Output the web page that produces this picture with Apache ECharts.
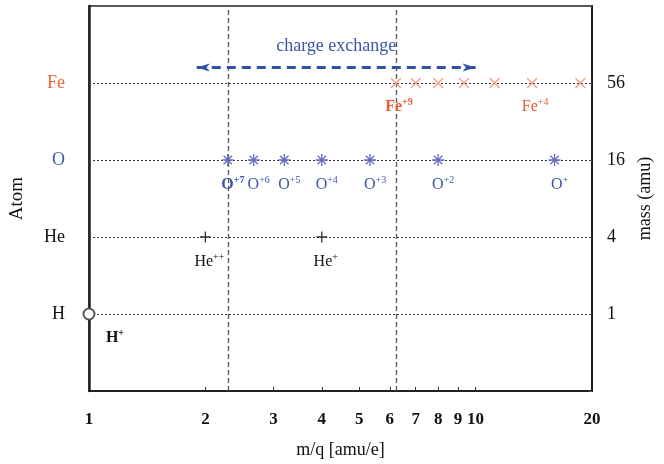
<!DOCTYPE html>
<html>
<head>
<meta charset="utf-8">
<script src="https://cdn.jsdelivr.net/npm/echarts@6/dist/echarts.min.js"></script>
<style>html,body{margin:0;padding:0;background:#fff}#c{width:664px;height:464px}</style>
</head>
<body>
<div id="c"></div>
<script>
// ---- data ----
const atoms = ['H', 'He', 'O', 'Fe'];
const masses = [1, 4, 16, 56];
const xTickLabels = [1, 2, 3, 4, 5, 6, 7, 8, 9, 10, 20];
const xMinorTicks = [2, 3, 4, 5, 6, 7, 8, 9, 10];

const hMQ = [1];
const hSup = ['+'];
const heMQ = [2, 4];
const heSup = ['++', '+'];
const oMQ = [2.286, 2.667, 3.2, 4, 5.333, 8, 16];
const oSup = ['+7', '+6', '+5', '+4', '+3', '+2', '+'];
const feMQ = [6.222, 7, 8, 9.333, 11.2, 14, 18.667];
const feSup = ['+9', '', '', '', '', '+4', ''];
const boldIon = { H: 0, O: 0, Fe: 0 };          // index of bold (highlighted) ion
const refLinesMQ = [2.286, 6.222];               // O+7 and Fe+9
const arrowMQ = [1.9, 10];
const arrowY = 4.2;
const arrowText = 'charge exchange';

// ---- styling ----
const FONT = 'Liberation Serif';
const feLabelColor = '#ee5a30';
const feMarkColor = '#f4a080';
const oLabelColor = '#3a58a6';
const oMarkColor = '#6a6cc2';
const blk = '#111';

const cross = 'path://M0,0 L10,10 M10,0 L0,10';
const star = 'path://M0,5 L10,5 M5,0 L5,10 M1.5,1.5 L8.5,8.5 M8.5,1.5 L1.5,8.5';
const plus = 'path://M0,5 L10,5 M5,0 L5,10';

function ionSeries(name, mq, sup, yIdx, symbol, size, markColor, labelColor, boldIdx, offset) {
  const y = yIdx + 1;
  return {
    type: 'scatter', name: name, clip: false, z: 5,
    symbol: symbol, symbolSize: size,
    itemStyle: { color: 'rgba(0,0,0,0)', borderColor: markColor, borderWidth: 1.3, opacity: 1 },
    data: mq.map((v, i) => ({
      value: [v, y],
      label: {
        show: sup[i] !== '',
        formatter: (i === boldIdx ? '{mb|' : '{m|') + name + '}' + (i === boldIdx ? '{sb|' : '{s|') + sup[i] + '}'
      }
    })),
    label: {
      position: 'bottom', distance: 9, offset: offset,
      fontFamily: FONT,
      rich: {
        m: { fontFamily: FONT, fontSize: 16, color: labelColor },
        mb: { fontFamily: FONT, fontSize: 16, color: labelColor, fontWeight: 'bold' },
        s: { fontFamily: FONT, fontSize: 10, color: labelColor, padding: [0, 0, 9, 0] },
        sb: { fontFamily: FONT, fontSize: 10, color: labelColor, fontWeight: 'bold', padding: [0, 0, 9, 0] }
      }
    },
    emphasis: { disabled: true }
  };
}

const series = [
  ionSeries('Fe', feMQ, feSup, 3, cross, 10, feMarkColor, feLabelColor, boldIon.Fe, [3, 0]),
  ionSeries('O', oMQ, oSup, 2, star, 12, oMarkColor, oLabelColor, boldIon.O, [5, 0]),
  ionSeries('He', heMQ, heSup, 1, plus, 11, '#333', blk, -1, [4, 0]),
  ionSeries('H', hMQ, hSup, 0, 'emptyCircle', 11, '#444', blk, boldIon.H, [26, 4])
];
series[3].itemStyle = { color: '#555', borderColor: '#555', borderWidth: 1.3, opacity: 1 };
series[3].z = 10;
series[3].label.distance = 4;

// horizontal dotted grid lines at each atom, vertical reference lines, arrow
series.push({
  type: 'scatter', data: [], silent: true, z: 1,
  markLine: {
    silent: true, symbol: 'none', animation: false,
    label: { show: false },
    data: atoms.map((a, i) => ({ yAxis: i + 1, lineStyle: { color: '#333', type: [2, 2], width: 1 } }))
      .concat(refLinesMQ.map(v => ({ xAxis: v, lineStyle: { color: '#555', type: [5, 3], width: 1.3 } })))
  }
});
series.push({
  type: 'scatter', data: [], silent: true,
  markLine: {
    silent: true, animation: false,
    symbol: ['arrow', 'arrow'], symbolSize: [6, 13],
    lineStyle: { color: '#2f52a6', type: [9, 6], width: 3 },
    label: {
      show: true, position: 'middle', distance: 12,
      formatter: arrowText, fontFamily: FONT, fontSize: 18, color: oLabelColor
    },
    data: [[{ coord: [arrowMQ[0], arrowY] }, { coord: [arrowMQ[1], arrowY] }]]
  }
});

const option = {
  animation: false,
  backgroundColor: '#fff',
  grid: { left: 87, right: 72, top: 6, bottom: 72, show: true, borderColor: '#222', borderWidth: 1.5, backgroundColor: 'transparent' },
  xAxis: [{
    type: 'log', logBase: 10, min: 1, max: 20,
    name: 'm/q [amu/e]', nameLocation: 'middle', nameGap: 50,
    nameTextStyle: { fontFamily: FONT, fontSize: 18, color: blk },
    axisLine: { show: true, lineStyle: { color: blk, width: 1.5 } },
    axisTick: { show: true, inside: true, length: 4, customValues: xMinorTicks, lineStyle: { color: '#333' } },
    axisLabel: {
      customValues: xTickLabels, margin: 20,
      fontFamily: FONT, fontSize: 17, fontWeight: 'bold', color: blk,
      formatter: v => String(Math.round(v))
    },
    minorTick: { show: false },
    splitLine: { show: false }
  }],
  yAxis: [{
    type: 'value', min: 0, max: 5, interval: 1,
    name: 'Atom', nameLocation: 'middle', nameGap: 62, nameRotate: 90,
    nameTextStyle: { fontFamily: FONT, fontSize: 19, color: blk },
    axisLine: { show: true, lineStyle: { color: '#222', width: 2.5 } },
    axisTick: { show: false },
    axisLabel: {
      margin: 24, fontFamily: FONT, fontSize: 18,
      formatter: v => {
        const a = atoms[v - 1];
        if (!a) return '';
        const st = a === 'Fe' ? 'fe' : (a === 'O' ? 'o' : 'k');
        return '{' + st + '|' + a + '}';
      },
      rich: {
        fe: { fontFamily: FONT, fontSize: 18, color: '#f0643c' },
        o: { fontFamily: FONT, fontSize: 18, color: oLabelColor },
        k: { fontFamily: FONT, fontSize: 18, color: blk }
      }
    },
    splitLine: { show: false }
  }, {
    type: 'value', min: 0, max: 5, interval: 1, position: 'right',
    name: 'mass (amu)', nameLocation: 'middle', nameGap: 34, nameRotate: 90,
    nameTextStyle: { fontFamily: FONT, fontSize: 18, color: blk },
    axisLine: { show: true, lineStyle: { color: '#222', width: 2 } },
    axisTick: { show: true, inside: true, length: 3, lineStyle: { color: '#555' } },
    axisLabel: {
      margin: 15, fontFamily: FONT, fontSize: 18, color: blk,
      formatter: v => (masses[v - 1] !== undefined && v > 0) ? String(masses[v - 1]) : ''
    },
    splitLine: { show: false }
  }],
  series: series
};

const chart = echarts.init(document.getElementById('c'), null, { renderer: 'canvas' });
chart.setOption(option);
</script>
</body>
</html>
